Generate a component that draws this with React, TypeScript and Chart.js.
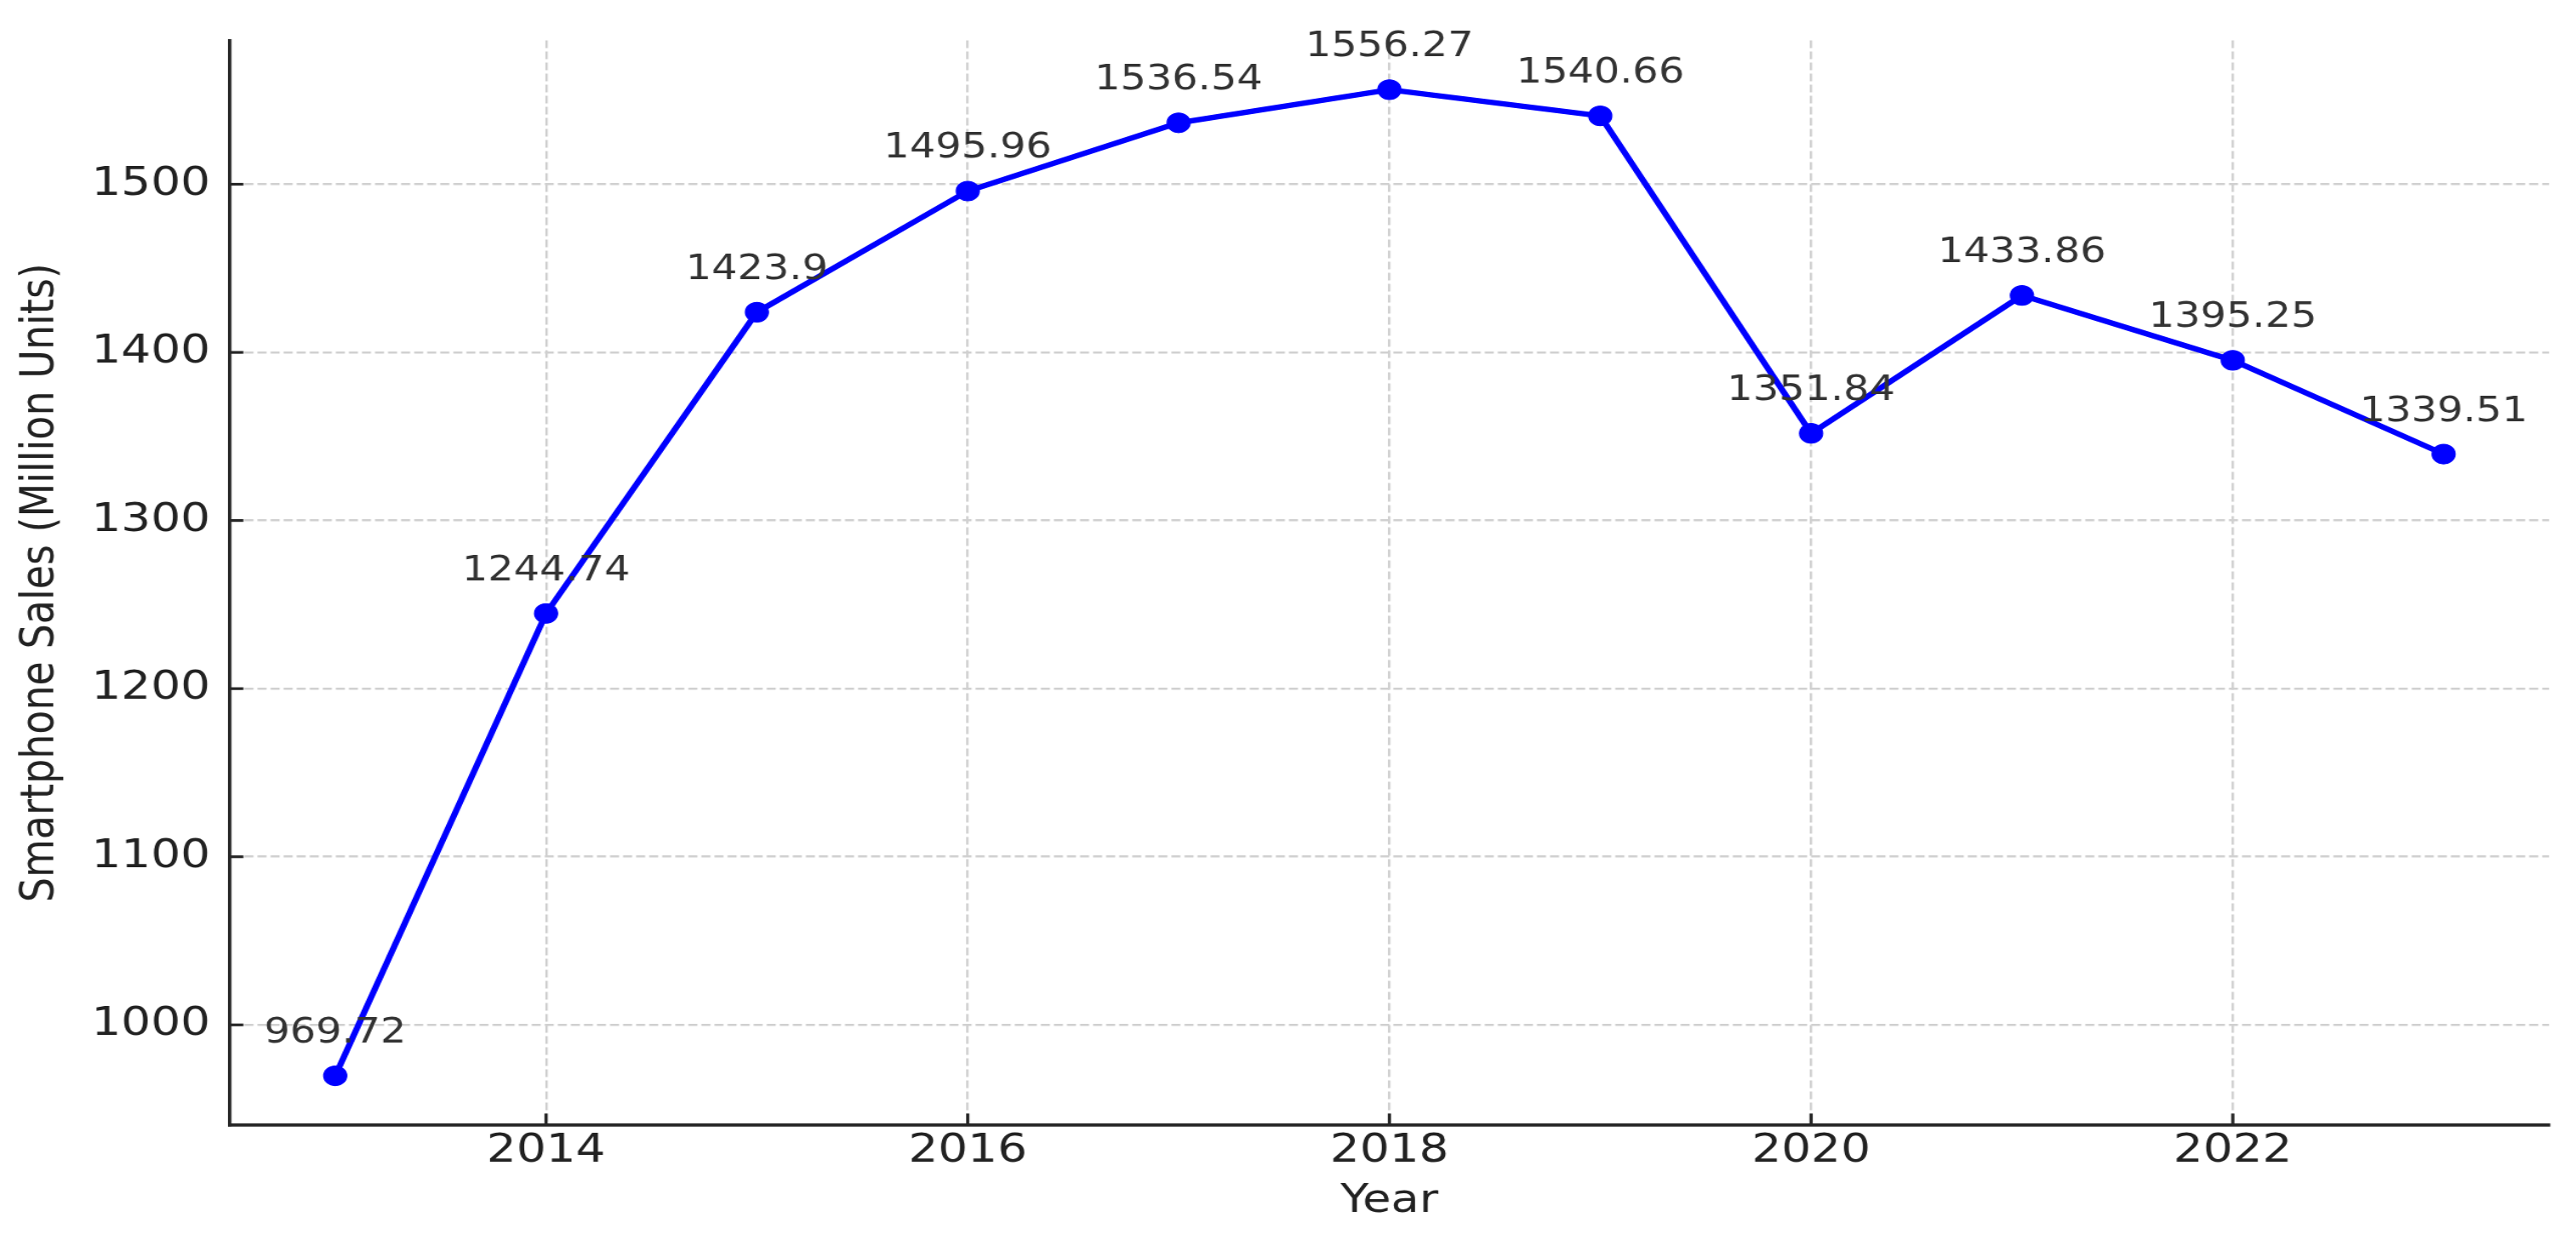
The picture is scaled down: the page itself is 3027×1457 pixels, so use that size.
import React, { useEffect, useRef } from 'react';
import { Chart, registerables } from 'chart.js';

Chart.register(...registerables);

// ---- data ----
const years = [2013, 2014, 2015, 2016, 2017, 2018, 2019, 2020, 2021, 2022, 2023];
const sales = [969.72, 1244.74, 1423.9, 1495.96, 1536.54, 1556.27, 1540.66, 1351.84, 1433.86, 1395.25, 1339.51];
const xTickValues = [2014, 2016, 2018, 2020, 2022];
const yTickValues = [1000, 1100, 1200, 1300, 1400, 1500];
const xTitle = 'Year';
const yTitle = 'Smartphone Sales (Million Units)';

// ---- layout / style ----
const PAGE_W = 3027;
const PAGE_H = 1457;
const STRETCH = 1.18; // reference is horizontally stretched
const CANVAS_W = Math.round(PAGE_W / STRETCH);
const PLOT_LEFT = 270 / STRETCH;
const PLOT_RIGHT = 2995 / STRETCH;
const PLOT_TOP = 42;
const PLOT_BOTTOM = 1322;

const FONT = '"DejaVu Sans", "Liberation Sans", sans-serif';
const AXIS_COLOR = '#262626';
const TEXT_COLOR = '#222222';
const ANNOT_COLOR = '#333333';
const GRID_COLOR = '#d0d0d0';
const LINE_COLOR = '#0000ff';
const TICK_LEN = 13.6;
const TICK_W = 3.2;

function padRange(values: number[]): [number, number] {
  const mn = Math.min(...values);
  const mx = Math.max(...values);
  const r = mx - mn;
  return [mn - 0.05 * r, mx + 0.05 * r];
}

const overlayPlugin = {
  id: 'overlay',
  afterDatasetsDraw(chart: any) {
    const ctx = chart.ctx;
    const xs = chart.scales.x;
    const ys = chart.scales.y;
    const area = chart.chartArea;
    ctx.save();
    ctx.strokeStyle = AXIS_COLOR;
    ctx.lineWidth = TICK_W;
    xTickValues.forEach((v) => {
      const px = xs.getPixelForValue(v);
      ctx.beginPath();
      ctx.moveTo(px, area.bottom);
      ctx.lineTo(px, area.bottom - TICK_LEN);
      ctx.stroke();
    });
    yTickValues.forEach((v) => {
      const py = ys.getPixelForValue(v);
      ctx.beginPath();
      ctx.moveTo(area.left, py);
      ctx.lineTo(area.left + TICK_LEN, py);
      ctx.stroke();
    });
    const meta = chart.getDatasetMeta(0);
    ctx.font = `40.5px ${FONT}`;
    ctx.fillStyle = ANNOT_COLOR;
    ctx.textAlign = 'center';
    ctx.textBaseline = 'alphabetic';
    meta.data.forEach((pt: any, i: number) => {
      ctx.fillText(String(sales[i]), pt.x, pt.y - 39);
    });
    ctx.restore();
  },
};

export default function App() {
  const canvasRef = useRef<HTMLCanvasElement | null>(null);

  useEffect(() => {
    document.body.style.margin = '0';
    document.body.style.overflow = 'hidden';
    const canvas = canvasRef.current;
    if (!canvas) return;
    const [xMin, xMax] = padRange(years);
    const [yMin, yMax] = padRange(sales);

    const chart = new Chart(canvas, {
      type: 'line',
      data: {
        datasets: [
          {
            data: years.map((y, i) => ({ x: y, y: sales[i] })),
            borderColor: LINE_COLOR,
            backgroundColor: LINE_COLOR,
            borderWidth: 6.3,
            pointRadius: 11.5,
            pointBorderWidth: 1.2,
            pointBackgroundColor: LINE_COLOR,
            pointBorderColor: LINE_COLOR,
            tension: 0,
            fill: false,
          },
        ],
      },
      options: {
        responsive: false,
        maintainAspectRatio: false,
        animation: false,
        devicePixelRatio: 1,
        layout: {
          padding: { left: 0, right: CANVAS_W - PLOT_RIGHT, top: PLOT_TOP, bottom: 0 },
        },
        plugins: {
          legend: { display: false },
          tooltip: { enabled: false },
        },
        scales: {
          x: {
            type: 'linear',
            min: xMin,
            max: xMax,
            afterBuildTicks: (scale: any) => {
              scale.ticks = xTickValues.map((v) => ({ value: v }));
            },
            afterFit: (scale: any) => {
              scale.height = PAGE_H - PLOT_BOTTOM;
            },
            grid: {
              display: true,
              color: GRID_COLOR,
              lineWidth: 2.4,
              drawTicks: false,
            },
            border: { display: true, color: AXIS_COLOR, width: 3.8, dash: [9, 4] },
            ticks: {
              autoSkip: false,
              maxRotation: 0,
              padding: 3,
              color: TEXT_COLOR,
              font: { family: FONT, size: 46.5 },
              callback: (v: any) => String(v),
            },
            title: {
              display: true,
              text: xTitle,
              color: TEXT_COLOR,
              font: { family: FONT, size: 46 },
              padding: { top: 0, bottom: 17 },
            },
          },
          y: {
            type: 'linear',
            min: yMin,
            max: yMax,
            afterBuildTicks: (scale: any) => {
              scale.ticks = yTickValues.map((v) => ({ value: v }));
            },
            afterFit: (scale: any) => {
              scale.width = PLOT_LEFT;
            },
            grid: {
              display: true,
              color: GRID_COLOR,
              lineWidth: 2.4,
              drawTicks: false,
            },
            border: { display: true, color: AXIS_COLOR, width: 3.4, dash: [9, 4] },
            ticks: {
              autoSkip: false,
              padding: 19.5,
              color: TEXT_COLOR,
              font: { family: FONT, size: 46.5 },
              callback: (v: any) => String(v),
            },
            title: {
              display: true,
              text: yTitle,
              color: TEXT_COLOR,
              font: { family: FONT, size: 46 },
              padding: { top: 13, bottom: 0 },
            },
          },
        },
      },
      plugins: [overlayPlugin],
    } as any);

    return () => {
      chart.destroy();
    };
  }, []);

  return (
    <div style={{ width: PAGE_W, height: PAGE_H, overflow: 'hidden', background: '#fff' }}>
      <canvas
        ref={canvasRef}
        width={CANVAS_W}
        height={PAGE_H}
        style={{ width: `${PAGE_W}px`, height: `${PAGE_H}px`, display: 'block' }}
      />
    </div>
  );
}
